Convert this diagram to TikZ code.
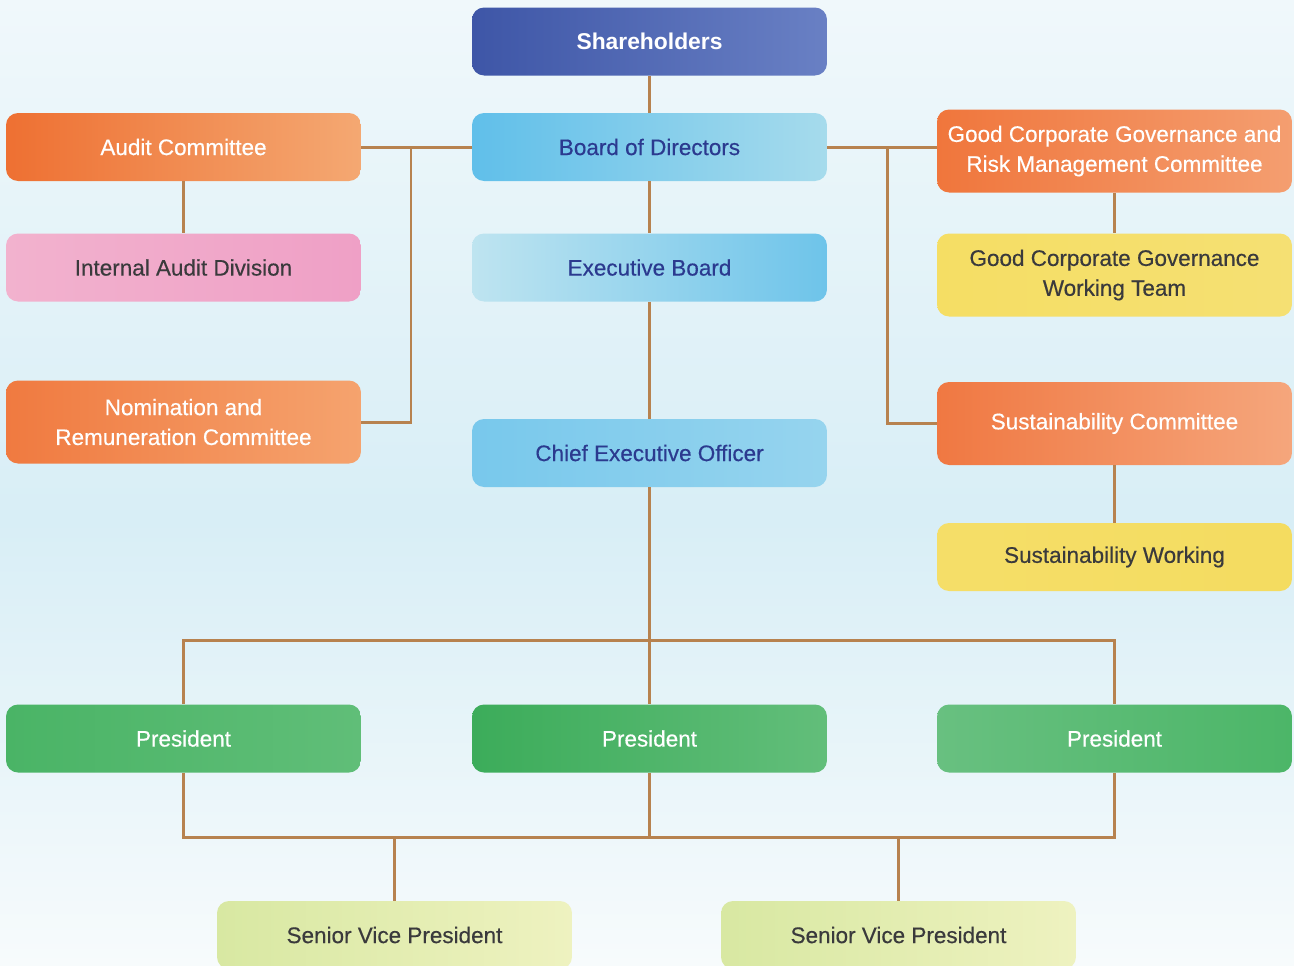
\documentclass[tikz,border=0pt]{standalone}
\usepackage{fontspec}
\setmainfont{Liberation Sans}
\newfontfamily\medfont{Liberation Sans}[FakeBold=0.4]
\usetikzlibrary{positioning}

\definecolor{linebrown}{HTML}{B7824F}
\definecolor{navytext}{HTML}{2B3A8F}
\definecolor{graytext}{HTML}{3A3A3C}
\definecolor{bgtop}{HTML}{F0F8FB}
\definecolor{bgmid}{HTML}{D8EEF6}
\definecolor{bgbot}{HTML}{F7FBFC}

\begin{document}
\begin{tikzpicture}[x=0.02cm,y=-0.02cm]
    \tikzset{base/.style = {rectangle, rounded corners=0.24cm,
                           minimum width=7.1cm, minimum height=1.36cm,
                           inner sep=2pt, align=center,
                           font=\medfont\fontsize{12.8}{17}\selectfont}}
    \tikzset{tall/.style = {minimum height=1.66cm}}
    \tikzset{topbox/.style = {base, text=white, font=\fontsize{13}{17}\selectfont\bfseries}}
    \tikzset{bluebox/.style = {base, text=navytext}}
    \tikzset{orangebox/.style = {base, text=white}}
    \tikzset{pinkbox/.style = {base, text=graytext}}
    \tikzset{yellowbox/.style = {base, text=graytext}}
    \tikzset{greenbox/.style = {base, text=white}}
    \tikzset{svpbox/.style = {base, text=graytext}}
    \tikzset{link/.style = {draw=linebrown, line width=1.7pt}}

    % background
    \useasboundingbox (0,0) rectangle (1294,965);
    \fill[bgbot] (0,0) rectangle (1294,965);
    \shade[top color=bgtop, bottom color=bgmid] (0,0) rectangle (1294,520);
    \shade[top color=bgmid, bottom color=bgbot] (0,520) rectangle (1294,965);

    % centre column
    \node (share) [topbox, left color={rgb,255:red,62;green,86;blue,167}, right color={rgb,255:red,105;green,128;blue,196}] at (649.5,41.5) {Shareholders};
    \node (board) [bluebox, left color={rgb,255:red,96;green,191;blue,234}, right color={rgb,255:red,166;green,219;blue,236}] at (649.5,147) {Board of Directors};
    \node (exec) [bluebox, left color={rgb,255:red,190;green,228;blue,240}, right color={rgb,255:red,110;green,196;blue,234}] at (649.5,267.5) {Executive Board};
    \node (ceo) [bluebox, left color={rgb,255:red,120;green,200;blue,236}, right color={rgb,255:red,150;green,212;blue,238}] at (649.5,453) {Chief Executive Officer};

    % left column
    \node (audit) [orangebox, left color={rgb,255:red,238;green,112;blue,50}, right color={rgb,255:red,244;green,168;blue,114}] at (183.5,147) {Audit Committee};
    \node (intaud) [pinkbox, left color={rgb,255:red,242;green,178;blue,206}, right color={rgb,255:red,239;green,160;blue,198}] at (183.5,267.5) {Internal Audit Division};
    \node (nomin) [orangebox, tall, left color={rgb,255:red,240;green,122;blue,64}, right color={rgb,255:red,245;green,163;blue,110}] at (183.5,422) {Nomination and\\Remuneration Committee};

    % right column
    \node (gcg) [orangebox, tall, left color={rgb,255:red,240;green,118;blue,60}, right color={rgb,255:red,244;green,158;blue,112}] at (1114.5,151) {Good Corporate Governance and\\Risk Management Committee};
    \node (gcgteam) [yellowbox, tall, left color={rgb,255:red,245;green,222;blue,100}, right color={rgb,255:red,245;green,224;blue,115}] at (1114.5,275) {Good Corporate Governance\\Working Team};
    \node (susc) [orangebox, tall, left color={rgb,255:red,240;green,120;blue,66}, right color={rgb,255:red,245;green,166;blue,124}] at (1114.5,423.5) {Sustainability Committee};
    \node (susw) [yellowbox, left color={rgb,255:red,245;green,222;blue,104}, right color={rgb,255:red,244;green,220;blue,96}] at (1114.5,557) {Sustainability Working};

    % presidents
    \node (pres1) [greenbox, left color={rgb,255:red,74;green,180;blue,102}, right color={rgb,255:red,96;green,190;blue,120}] at (183.5,738.5) {President};
    \node (pres2) [greenbox, left color={rgb,255:red,60;green,172;blue,90}, right color={rgb,255:red,98;green,190;blue,122}] at (649.5,738.5) {President};
    \node (pres3) [greenbox, left color={rgb,255:red,104;green,192;blue,128}, right color={rgb,255:red,76;green,182;blue,104}] at (1114.5,738.5) {President};

    \node (svp1) [svpbox, left color={rgb,255:red,216;green,232;blue,162}, right color={rgb,255:red,238;green,242;blue,192}] at (394.5,935) {Senior Vice President};
    \node (svp2) [svpbox, left color={rgb,255:red,216;green,232;blue,162}, right color={rgb,255:red,238;green,242;blue,192}] at (898.5,935) {Senior Vice President};

    % junctions
    \coordinate (jl) at (411,147);
    \coordinate (jr) at (887,147);
    \coordinate (bus1) at (649.5,640);
    \coordinate (bus2) at (649.5,837);

    \draw[link] (share) -- (board);
    \draw[link] (board) -- (exec);
    \draw[link] (exec) -- (ceo);
    \draw[link] (board.west) -- (audit.east);
    \draw[link] (nomin.east) -| (jl);
    \draw[link] (board.east) -- (board.east -| gcg.west);
    \draw[link] (susc.west) -| (jr);
    \draw[link] (audit) -- (intaud);
    \draw[link] (gcg) -- (gcgteam);
    \draw[link] (susc) -- (susw);

    \draw[link] (ceo) -- (pres2);
    \draw[link] (pres1) |- (bus1) -| (pres3);
    \draw[link] (pres1) |- (bus2) -| (pres3);
    \draw[link] (pres2) -- (bus2);
    \draw[link] (svp1) -- (svp1 |- bus2);
    \draw[link] (svp2) -- (svp2 |- bus2);

\end{tikzpicture}
\end{document}
